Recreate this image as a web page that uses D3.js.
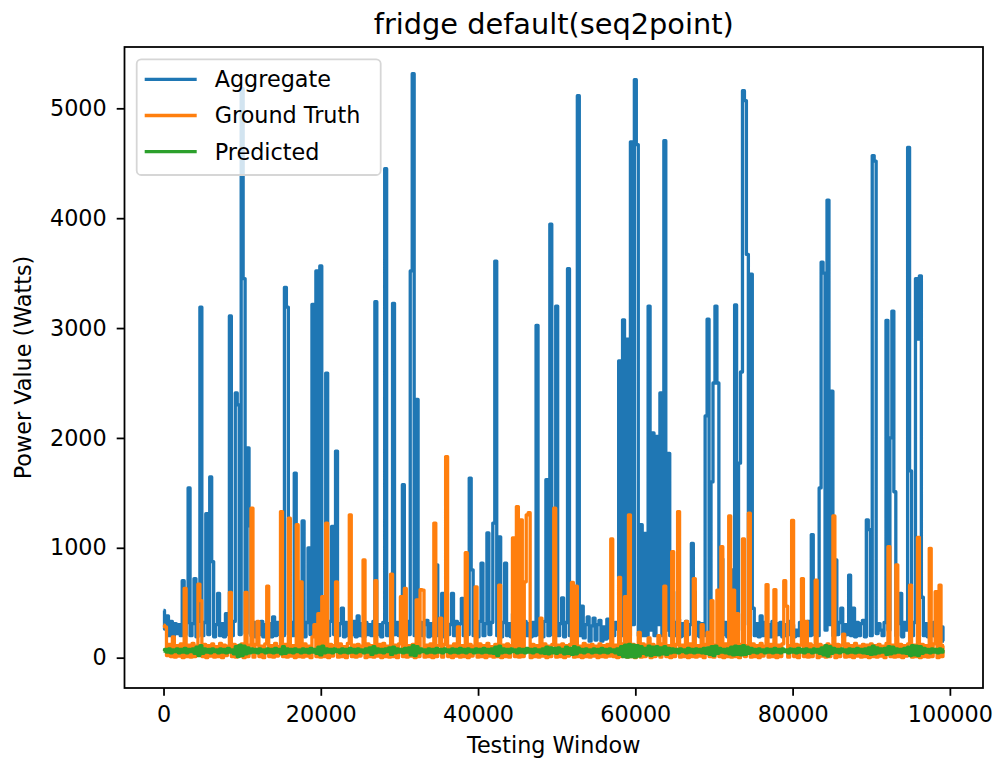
<!DOCTYPE html>
<html>
<head>
<meta charset="utf-8">
<script src="https://cdn.jsdelivr.net/npm/d3@7"></script>
<style>
  body { margin: 0; background: #fff; }
  svg { display: block; }
  text { font-family: "DejaVu Sans", sans-serif; fill: #000; }
</style>
</head>
<body>
<div id="chart"></div>
<script>
// ---- data (one sample every 250 testing windows) ----
const windowStep = 250;
const seriesNames = ["Aggregate", "Ground Truth", "Predicted"];
const seriesColors = ["#1f77b4", "#ff7f0e", "#2ca02c"];
const xTicks = [0, 20000, 40000, 60000, 80000, 100000];
const yTicks = [0, 1000, 2000, 3000, 4000, 5000];

const aggregate = [
  430,260,380,200,330,190,310,220,300,200,700,210,320,1545,200,310,720,190,330,3190,
  200,320,1310,210,1645,875,190,300,585,200,310,190,400,210,3110,200,330,2410,2300,210,
  5180,3450,220,1910,1200,200,320,190,300,210,330,190,300,200,310,190,372,200,320,210,
  300,200,3370,3190,210,320,200,1680,210,330,200,1245,190,320,1000,210,3215,300,3520,400,
  3565,220,300,2590,200,330,1195,210,1880,200,310,450,190,320,200,300,210,330,190,380,
  200,310,190,320,210,300,200,330,3240,210,300,190,320,4450,200,310,190,3225,210,320,
  200,300,1575,190,330,210,3520,5315,200,2350,210,320,200,300,340,190,310,200,320,845,
  200,310,585,190,320,210,300,585,200,330,190,310,540,200,320,210,1635,800,200,310,
  190,330,860,200,310,1135,210,320,1225,3610,200,1100,190,320,860,200,310,190,400,200,
  320,190,300,210,330,200,310,190,320,200,3025,210,300,190,330,1620,200,3945,210,320,
  3200,200,310,545,190,320,3540,200,300,210,330,5115,200,470,180,300,370,150,290,360,
  160,300,340,150,280,170,350,180,300,200,320,260,2700,200,3075,250,2900,200,4695,300,
  5260,4670,200,1210,200,1130,200,3200,250,2045,200,2015,300,2410,200,4705,250,1860,200,600,
  200,320,350,190,310,200,330,210,300,1040,600,200,320,190,310,200,2200,3080,200,1600,
  2500,3200,2500,200,900,210,320,190,300,800,200,3210,250,1770,2600,5160,5070,3670,300,3490,
  450,200,310,190,380,200,320,210,300,190,330,200,310,210,320,190,300,200,330,210,
  300,190,250,200,320,210,300,190,330,200,1120,210,310,200,1545,3600,3500,250,4165,300,
  2425,200,890,210,320,450,190,300,210,750,200,450,190,320,200,310,340,190,1255,1165,
  200,4570,4520,220,310,250,200,320,3070,250,2000,3155,1510,200,310,585,190,320,250,4645,
  1700,200,320,3450,2900,3475,550,200,310,190,310,200,320,190,300,200,280,150
];

const groundTruth = [
  297,280,20,120,10,190,5,110,15,125,0,630,10,115,5,130,10,105,670,520,
  10,120,0,110,15,125,5,100,10,130,0,115,20,105,595,10,120,5,110,15,
  125,0,595,10,115,1360,5,120,330,10,105,0,125,650,10,110,5,130,15,100,
  1330,10,120,5,1270,15,110,0,1210,10,690,5,125,15,105,0,190,300,10,400,
  5,555,10,1225,0,120,15,110,690,5,125,10,100,0,130,1300,10,115,5,120,
  15,105,890,0,125,10,110,5,700,15,120,0,130,10,105,5,760,10,115,0,
  125,555,10,630,5,110,15,120,0,525,10,620,615,5,115,10,125,0,1225,10,
  110,360,5,120,1830,10,105,0,125,15,280,5,110,10,955,0,120,15,105,645,
  5,125,10,110,0,130,15,100,5,120,10,660,0,115,10,125,5,110,1090,10,
  1375,5,1255,10,690,1300,1320,0,120,10,110,5,360,15,125,0,105,10,120,1360,
  5,115,10,125,0,110,15,120,685,5,650,10,105,0,130,10,115,5,120,15,
  105,0,125,10,110,5,120,15,1080,10,115,0,730,10,125,555,5,1300,10,120,
  0,110,230,5,125,10,115,180,0,120,10,105,200,5,125,650,10,110,0,965,
  10,120,1330,5,115,10,330,0,125,10,720,5,110,15,300,0,120,230,10,520,
  5,115,615,10,1010,0,125,10,1290,5,615,10,400,0,120,1080,10,110,1315,5,
  125,10,110,0,130,15,105,665,5,120,10,620,0,115,10,125,700,470,5,110,
  1250,10,120,0,115,720,10,330,5,125,10,110,705,0,120,15,105,5,125,10,
  110,1290,0,120,10,115,215,5,125,10,110,0,130,15,105,5,120,10,115,0,
  125,10,110,5,120,15,105,0,130,1010,10,115,5,845,10,120,0,110,15,125,
  660,5,115,10,1095,0,120,10,110,5,995,10,125,600,0,660,10,110
];

const predicted = [
  60,75,50,80,45,70,55,80,45,75,50,85,45,75,55,80,40,95,20,110,
  40,80,50,75,45,80,55,70,45,80,50,75,45,85,50,70,35,100,10,115,
  20,105,35,90,45,80,50,75,45,80,55,70,45,80,50,75,45,85,50,75,
  35,100,40,80,50,75,45,80,55,70,45,80,50,75,45,85,50,75,40,95,
  25,105,45,80,50,75,45,80,55,70,45,80,50,75,45,85,50,75,45,80,
  55,70,45,80,50,90,30,100,45,80,50,75,45,80,55,90,30,95,45,80,
  50,75,45,85,50,90,25,110,20,100,45,80,55,70,45,80,50,75,45,85,
  50,75,45,80,55,70,45,80,50,75,45,85,50,75,45,80,55,70,45,80,
  50,75,45,85,50,75,45,80,40,95,20,105,45,80,50,75,45,80,55,70,
  45,80,50,75,45,85,50,75,45,80,55,70,45,80,40,95,35,90,45,85,
  40,90,50,75,35,95,40,85,30,100,35,90,50,75,45,80,55,70,45,80,
  50,75,45,85,50,75,45,80,55,70,45,80,30,100,10,115,5,120,10,115,
  5,110,15,100,40,85,25,105,20,95,30,100,25,90,35,100,30,85,45,80,
  50,75,45,80,55,70,45,85,50,75,45,80,50,75,45,85,40,90,30,100,
  20,105,40,85,50,75,45,80,35,95,25,105,30,100,25,110,30,95,40,85,
  50,75,45,80,55,70,45,80,50,75,45,85,50,75,45,80,55,70,45,80,
  50,75,45,85,50,75,45,80,55,70,45,80,50,75,40,90,25,110,15,100,
  40,85,50,75,45,80,55,70,45,80,50,75,45,85,50,75,45,80,40,90,
  30,105,35,90,45,80,50,85,30,100,35,95,45,80,50,75,45,85,40,95,
  20,110,25,105,20,100,40,85,50,75,45,80,50,75,45,80,50,70
];

// ---- layout ----
const W = 997, H = 763;
const plot = { left: 124.5, right: 983, top: 47, bottom: 688 };
const fontTick = 22.3;
const lw = 3.3;

const svg = d3.select("#chart").append("svg").attr("width", W).attr("height", H);

const n = aggregate.length;
const xMax = (n - 1) * windowStep;
const xPad = xMax * 0.05;
const x = d3.scaleLinear().domain([-xPad, xMax + xPad]).range([plot.left, plot.right]);
const y = d3.scaleLinear().domain([-276, 5558]).range([plot.bottom, plot.top]);

svg.append("defs").append("clipPath").attr("id", "clip")
  .append("rect").attr("x", plot.left).attr("y", plot.top)
  .attr("width", plot.right - plot.left).attr("height", plot.bottom - plot.top);

const line = d3.line().x((d, i) => x(i * windowStep)).y(d => y(d)).curve(d3.curveStep);
const allSeries = [aggregate, groundTruth, predicted];

const g = svg.append("g").attr("clip-path", "url(#clip)");
allSeries.forEach((s, k) => {
  g.append("path").datum(s)
    .attr("d", line)
    .attr("fill", "none")
    .attr("stroke", seriesColors[k])
    .attr("stroke-width", lw)
    .attr("stroke-linejoin", "round");
});

// axes
const xAxis = d3.axisBottom(x).tickValues(xTicks).tickFormat(d3.format("d")).tickSize(7.8).tickPadding(10);
const yAxis = d3.axisLeft(y).tickValues(yTicks).tickFormat(d3.format("d")).tickSize(7.8).tickPadding(10);

const gx = svg.append("g").attr("transform", `translate(0,${plot.bottom})`).call(xAxis);
const gy = svg.append("g").attr("transform", `translate(${plot.left},0)`).call(yAxis);
[gx, gy].forEach(a => {
  a.select(".domain").remove();
  a.selectAll(".tick line").attr("stroke", "#000").attr("stroke-width", 1.78);
  a.selectAll(".tick text").attr("fill", "#000").style("font-size", fontTick + "px").style("font-family", "DejaVu Sans");
});

// frame
svg.append("rect")
  .attr("x", plot.left).attr("y", plot.top)
  .attr("width", plot.right - plot.left).attr("height", plot.bottom - plot.top)
  .attr("fill", "none").attr("stroke", "#000").attr("stroke-width", 1.78);

// title & labels
const cx = (plot.left + plot.right) / 2;
svg.append("text").attr("x", cx).attr("y", 34).attr("text-anchor", "middle")
  .style("font-size", "28.8px").text("fridge default(seq2point)");
svg.append("text").attr("x", cx).attr("y", 753).attr("text-anchor", "middle")
  .style("font-size", fontTick + "px").text("Testing Window");
svg.append("text").attr("transform", `translate(31,${(plot.top + plot.bottom) / 2}) rotate(-90)`)
  .attr("text-anchor", "middle").style("font-size", fontTick + "px").text("Power Value (Watts)");

// legend
const lg = svg.append("g");
lg.append("rect").attr("x", 136.7).attr("y", 59.3).attr("width", 244).attr("height", 115.7)
  .attr("rx", 4.5).attr("fill", "#fff").attr("fill-opacity", 0.8)
  .attr("stroke", "#d6d6d6").attr("stroke-width", 1.78);
seriesNames.forEach((name, k) => {
  const yy = 79.3 + k * 36.2;
  lg.append("line").attr("x1", 144.7).attr("x2", 196.7).attr("y1", yy).attr("y2", yy)
    .attr("stroke", seriesColors[k]).attr("stroke-width", lw);
  lg.append("text").attr("x", 214.7).attr("y", yy + 7.8)
    .style("font-size", fontTick + "px").text(name);
});
</script>
</body>
</html>
